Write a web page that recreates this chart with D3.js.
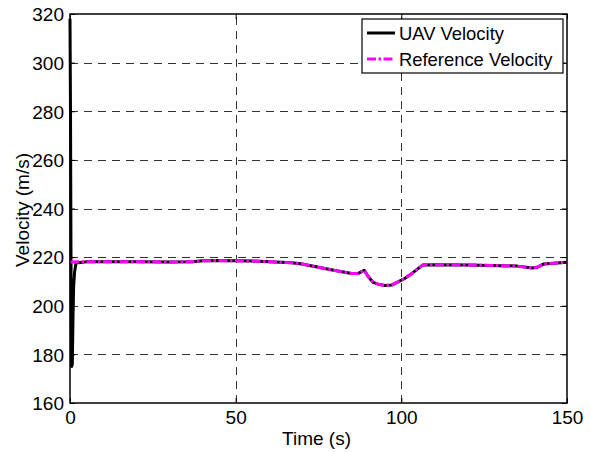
<!DOCTYPE html>
<html>
<head>
<meta charset="utf-8">
<script src="https://cdn.jsdelivr.net/npm/d3@7"></script>
<style>
  html, body { margin: 0; padding: 0; background: #fff; }
  svg { display: block; font-family: "Liberation Sans", Arial, sans-serif; }
</style>
</head>
<body>
<svg id="chart" width="591" height="452"></svg>
<script>
// Reference velocity profile (time in s, speed in m/s)
const refTime  = [0, 5, 10, 20, 30, 37, 40, 45, 50, 55, 60, 67, 70, 75, 80, 85, 87, 88.8, 90, 91.5, 93, 95, 97, 99, 101, 103.5, 106.5, 110, 120, 130, 135, 139.5, 141, 143, 146, 150];
const refSpeed = [218, 218.1, 218.1, 218.1, 218.0, 218.1, 218.5, 218.6, 218.5, 218.4, 218.1, 217.7, 217.2, 215.8, 214.5, 213.3, 213.3, 214.6, 212.0, 209.6, 208.9, 208.3, 208.5, 209.8, 211.2, 213.6, 216.8, 216.9, 216.8, 216.5, 216.3, 215.5, 215.8, 217.2, 217.5, 217.9];

// UAV start-up transient before it settles onto the reference
const uavStartTime  = [0, 0.15, 0.35, 0.5, 0.7, 0.9, 1.1, 1.4, 1.8];
const uavStartSpeed = [318, 280, 200, 175, 176, 195, 208, 214, 217.6];

const xTicks = [0, 50, 100, 150];
const yTicks = [160, 180, 200, 220, 240, 260, 280, 300, 320];
const seriesNames = ["UAV Velocity", "Reference Velocity"];

const refData = refTime.map((t, i) => ({ t, v: refSpeed[i] }));
const uavData = uavStartTime.map((t, i) => ({ t, v: uavStartSpeed[i] }))
  .concat(refData.filter(d => d.t > 2));

const svg = d3.select("#chart");
const plotLeft = 70, plotRight = 567, plotTop = 14, plotBottom = 403;

const x = d3.scaleLinear().domain([0, 150]).range([plotLeft, plotRight]);
const y = d3.scaleLinear().domain([160, 320]).range([plotBottom, plotTop]);

// dashed grid
const grid = svg.append("g").attr("stroke", "#000").attr("stroke-width", 0.8)
  .attr("stroke-dasharray", "8,6").attr("shape-rendering", "crispEdges");
grid.selectAll(".gx").data(xTicks.slice(1, -1)).enter().append("line")
  .attr("x1", d => Math.round(x(d)) + 0.5).attr("x2", d => Math.round(x(d)) + 0.5)
  .attr("y1", plotBottom).attr("y2", plotTop);
grid.selectAll(".gy").data(yTicks.slice(1, -1)).enter().append("line")
  .attr("y1", d => Math.round(y(d)) + 0.5).attr("y2", d => Math.round(y(d)) + 0.5)
  .attr("x1", plotLeft).attr("x2", plotRight);

// axes
const fontSize = 19;
const xAxis = svg.append("g").attr("transform", `translate(0,${plotBottom})`)
  .call(d3.axisBottom(x).tickValues(xTicks).tickSize(-5).tickPadding(7.5));
const yAxis = svg.append("g").attr("transform", `translate(${plotLeft},0)`)
  .call(d3.axisLeft(y).tickValues(yTicks).tickSize(-5).tickPadding(6));
svg.append("g").attr("transform", `translate(0,${plotTop})`)
  .call(d3.axisTop(x).tickValues(xTicks).tickSize(-5).tickFormat(""));
svg.append("g").attr("transform", `translate(${plotRight},0)`)
  .call(d3.axisRight(y).tickValues(yTicks).tickSize(-5).tickFormat(""));
svg.selectAll(".domain").remove();
svg.selectAll(".tick line").attr("stroke", "#000");
[xAxis, yAxis].forEach(a => a.selectAll("text")
  .attr("fill", "#000").style("font-size", fontSize + "px")
  .style("font-family", "'Liberation Sans', Arial, sans-serif"));
yAxis.selectAll("text").attr("dy", "0.36em");

// series
const line = d3.line().x(d => x(d.t)).y(d => y(d.v));
svg.append("path").datum(uavData).attr("d", line)
  .attr("fill", "none").attr("stroke", "#000").attr("stroke-width", 3)
  .attr("stroke-linejoin", "round");
svg.append("path").datum(refData).attr("d", line)
  .attr("fill", "none").attr("stroke", "#ff00ff").attr("stroke-width", 3)
  .attr("stroke-dasharray", "9,2.5,2.5,2.5");

// plot frame
svg.append("rect").attr("x", plotLeft).attr("y", plotTop)
  .attr("width", plotRight - plotLeft).attr("height", plotBottom - plotTop)
  .attr("fill", "none").attr("stroke", "#000").attr("stroke-width", 1.5);

// axis titles
svg.append("text").attr("x", 316.5).attr("y", 445)
  .attr("text-anchor", "middle").style("font-size", fontSize + "px").text("Time (s)");
svg.append("text").attr("transform", `translate(29,210) rotate(-90)`)
  .attr("text-anchor", "middle").style("font-size", fontSize + "px").text("Velocity (m/s)");

// legend
const lg = svg.append("g");
lg.append("rect").attr("x", 362).attr("y", 19).attr("width", 201).attr("height", 54)
  .attr("fill", "#fff").attr("stroke", "#000").attr("stroke-width", 1.2);
const rows = [
  { name: seriesNames[0], color: "#000", dash: null, yy: 33 },
  { name: seriesNames[1], color: "#ff00ff", dash: "9,2.5,2.5,2.5", yy: 59 }
];
rows.forEach(r => {
  lg.append("line").attr("x1", 367).attr("x2", 395).attr("y1", r.yy).attr("y2", r.yy)
    .attr("stroke", r.color).attr("stroke-width", 3).attr("stroke-dasharray", r.dash);
  lg.append("text").attr("x", 399).attr("y", r.yy).attr("dy", "0.36em")
    .style("font-size", "18.4px").text(r.name);
});
</script>
</body>
</html>
